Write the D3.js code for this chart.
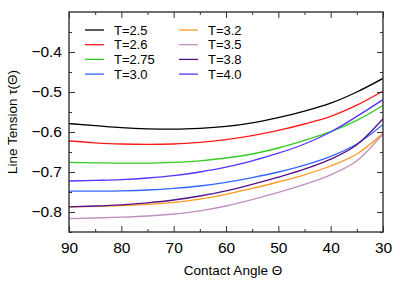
<!DOCTYPE html>
<html>
<head>
<meta charset="utf-8">
<script src="https://cdn.jsdelivr.net/npm/d3@7"></script>
<style>
body { margin: 0; background: #fff; }
text { font-family: "Liberation Sans", Arial, sans-serif; }
</style>
</head>
<body>
<script>
// contact angles (deg) where the curves are read
var angles = [90, 85, 80, 75, 70, 65, 60, 55, 50, 45, 40, 35, 30];
var temps = ["T=2.5", "T=2.6", "T=2.75", "T=3.0", "T=3.2", "T=3.5", "T=3.8", "T=4.0"];
var colors = ["#000000", "#ff1a1a", "#33cc22", "#3366ff", "#ff9922", "#c090c0", "#551188", "#5533ff"];

var t25  = [-0.579, -0.584, -0.589, -0.592, -0.593, -0.591, -0.586, -0.577, -0.564, -0.548, -0.528, -0.500, -0.466];
var t26  = [-0.6225, -0.627, -0.630, -0.631, -0.630, -0.626, -0.619, -0.609, -0.596, -0.580, -0.561, -0.533, -0.4975];
var t275 = [-0.676, -0.677, -0.678, -0.678, -0.676, -0.672, -0.665, -0.655, -0.640, -0.621, -0.599, -0.571, -0.534];
var t30  = [-0.748, -0.748, -0.747, -0.745, -0.741, -0.735, -0.726, -0.714, -0.700, -0.683, -0.661, -0.630, -0.581];
var t32  = [-0.787, -0.786, -0.784, -0.781, -0.776, -0.768, -0.756, -0.741, -0.725, -0.707, -0.685, -0.655, -0.604];
var t35  = [-0.8165, -0.815, -0.813, -0.810, -0.805, -0.797, -0.785, -0.769, -0.751, -0.731, -0.707, -0.672, -0.605];
var t38  = [-0.787, -0.785, -0.782, -0.777, -0.770, -0.760, -0.747, -0.731, -0.713, -0.693, -0.668, -0.632, -0.567];
var t40  = [-0.7225, -0.721, -0.719, -0.715, -0.709, -0.700, -0.688, -0.672, -0.653, -0.630, -0.600, -0.561, -0.519];
var series = [t25, t26, t275, t30, t32, t35, t38, t40];

var xTicks = [90, 80, 70, 60, 50, 40, 30];
var yTicks = [-0.8, -0.7, -0.6, -0.5, -0.4];

var W = 400, H = 286;
var pl = 69, pr = 383, pt = 12, pb = 232;   // plot frame

var svg = d3.select("body").append("svg")
  .attr("width", W)
  .attr("height", H);

var x = d3.scaleLinear().domain([90, 30]).range([pl, pr]);
var y = d3.scaleLinear().domain([-0.85, -0.30]).range([pb, pt]);

// clip so curves stay inside the frame
svg.append("clipPath").attr("id", "plot")
  .append("rect").attr("x", pl).attr("y", pt)
  .attr("width", pr - pl).attr("height", pb - pt);

var line = d3.line()
  .x(function(d, i) { return x(angles[i]); })
  .y(function(d) { return y(d); })
  .curve(d3.curveMonotoneX);

svg.append("g").attr("clip-path", "url(#plot)")
  .selectAll("path")
  .data(series)
  .enter().append("path")
  .attr("d", line)
  .attr("fill", "none")
  .attr("stroke", function(d, i) { return colors[i]; })
  .attr("stroke-width", 1.3);

// ticks inward on all four sides
var xMinor = d3.range(85, 30, -10);
var yMinor = [-0.85, -0.75, -0.65, -0.55, -0.45, -0.35];

function makeAxes() {
  return [
    [d3.axisBottom(x), "translate(0," + pb + ")", xTicks, xMinor],
    [d3.axisTop(x), "translate(0," + pt + ")", xTicks, xMinor],
    [d3.axisLeft(y), "translate(" + pl + ",0)", yTicks, yMinor],
    [d3.axisRight(y), "translate(" + pr + ",0)", yTicks, yMinor]
  ];
}

// minor ticks
makeAxes().forEach(function(a) {
  var g = svg.append("g").attr("transform", a[1])
    .call(a[0].tickValues(a[3]).tickSizeInner(-3).tickSizeOuter(0).tickFormat(""));
  g.select(".domain").remove();
  g.selectAll("line").attr("stroke", "#333");
});

// major ticks, labels only bottom and left
makeAxes().forEach(function(a, k) {
  var ax = a[0].tickValues(a[2]).tickSizeInner(-6).tickSizeOuter(0)
    .tickPadding(k == 0 ? 10 : 7);
  if (k == 0) ax.tickFormat(d3.format("d"));
  else if (k == 2) ax.tickFormat(d3.format(".1f"));
  else ax.tickFormat("");
  var g = svg.append("g").attr("transform", a[1]).call(ax);
  g.select(".domain").remove();
  g.selectAll("line").attr("stroke", "#333");
  g.selectAll("text").attr("font-size", 15.5).attr("fill", "#000")
    .style("font-family", "Liberation Sans, Arial, sans-serif");
});

svg.append("rect")
  .attr("x", pl).attr("y", pt)
  .attr("width", pr - pl).attr("height", pb - pt)
  .attr("fill", "none").attr("stroke", "#333").attr("stroke-width", 1.4);

// axis titles
svg.append("text")
  .attr("x", (pl + pr) / 2 + 7).attr("y", 275)
  .attr("text-anchor", "middle").attr("font-size", 13.5)
  .text("Contact Angle \u0398");

svg.append("text")
  .attr("transform", "translate(17," + (pt + pb) / 2 + ") rotate(-90)")
  .attr("text-anchor", "middle").attr("font-size", 13.5)
  .text("Line Tension \u03c4(\u0398)");

// legend, two columns of four
var leg = svg.append("g").selectAll("g")
  .data(temps)
  .enter().append("g")
  .attr("transform", function(d, i) {
    return "translate(" + (i < 4 ? 85 : 179) + "," + (30 + (i % 4) * 14.7) + ")";
  });
leg.append("line")
  .attr("x1", 0).attr("x2", 19)
  .attr("stroke", function(d, i) { return colors[i]; })
  .attr("stroke-width", 1.3);
leg.append("text")
  .attr("x", 29).attr("y", 4.5)
  .attr("font-size", 13)
  .text(function(d) { return d; });
</script>
</body>
</html>
